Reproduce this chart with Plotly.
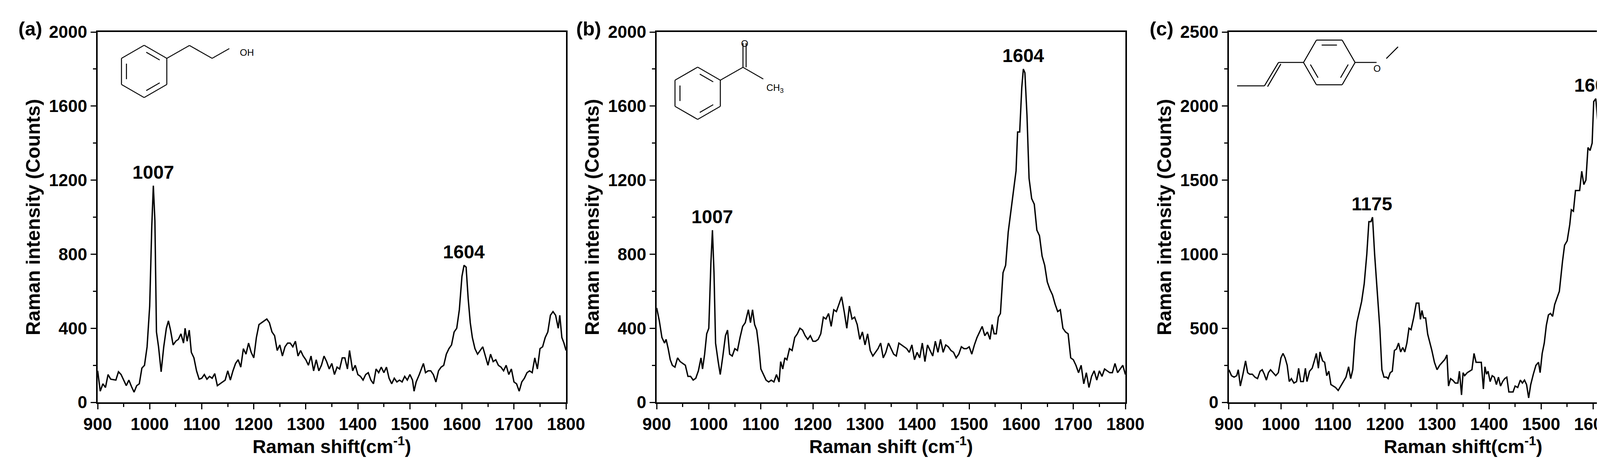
import math
import plotly.graph_objects as go

# panel (a) 2-phenylethanol
shift_a = [900, 905, 910, 915, 920, 925, 935, 940, 945, 950, 955, 960, 965, 970, 975, 980, 985, 990, 995, 1000,
           1004, 1007, 1010, 1013, 1017, 1022, 1027, 1032, 1036, 1040, 1045, 1050, 1055, 1060, 1065, 1068, 1072, 1076,
           1080, 1085, 1090, 1095, 1100, 1105, 1110, 1115, 1120, 1125, 1130, 1135, 1140, 1145, 1150, 1155, 1160, 1165,
           1170, 1175, 1180, 1185, 1190, 1195, 1200, 1205, 1210, 1215, 1220, 1225, 1230, 1235, 1240, 1245, 1250, 1255,
           1260, 1265, 1270, 1275, 1280, 1285, 1290, 1295, 1300, 1305, 1310, 1315, 1320, 1325, 1330, 1335, 1340, 1345,
           1350, 1355, 1360, 1365, 1370, 1375, 1380, 1384, 1390, 1395, 1400, 1405, 1410, 1415, 1420, 1425, 1430, 1435,
           1440, 1445, 1450, 1455, 1460, 1465, 1470, 1475, 1480, 1485, 1490, 1495, 1500, 1505, 1508, 1512, 1518, 1522,
           1526, 1530, 1535, 1540, 1545, 1550, 1555, 1560, 1565, 1570, 1575, 1580, 1585, 1590, 1595, 1600, 1604, 1608,
           1612, 1616, 1620, 1625, 1630, 1635, 1640, 1645, 1650, 1655, 1660, 1665, 1670, 1675, 1680, 1685, 1690, 1695,
           1700, 1705, 1710, 1715, 1720, 1725, 1730, 1735, 1740, 1745, 1750, 1755, 1760, 1765, 1770, 1775, 1780, 1785,
           1788, 1792, 1796, 1800]
counts_a = [170, 60, 100, 80, 150, 125, 120, 165, 150, 120, 90, 120, 85, 55, 90, 100, 185, 200, 300, 520,
            950, 1170, 980, 380, 300, 165, 300, 400, 440, 390, 310, 330, 340, 370, 320, 400, 330, 390,
            270, 240, 170, 125, 130, 150, 125, 140, 130, 155, 90, 100, 110, 120, 170, 120, 170, 210,
            230, 190, 290, 260, 320, 270, 240, 350, 420, 430, 440, 450, 430, 380, 360, 280, 310, 250,
            300, 320, 320, 300, 330, 250, 280, 250, 230, 200, 250, 170, 230, 170, 200, 250, 220, 180,
            210, 150, 190, 180, 240, 240, 180, 280, 170, 200, 150, 140, 120, 150, 160, 120, 100, 180,
            160, 190, 160, 190, 130, 100, 130, 110, 120, 110, 140, 120, 150, 120, 60, 110, 150, 180,
            210, 160, 170, 170, 150, 110, 170, 190, 200, 260, 290, 310, 380, 400, 500, 680, 740, 730,
            560, 430, 350, 290, 260, 280, 300, 250, 200, 260, 220, 230, 200, 190, 170, 200, 150, 180,
            110, 100, 60, 110, 130, 160, 170, 160, 240, 180, 290, 300, 350, 380, 470, 490, 470, 400,
            470, 350, 320, 280]

# panel (b) acetophenone
shift_b = [900, 905, 910, 915, 918, 922, 926, 930, 935, 940, 945, 950, 955, 960, 965, 970, 975, 980, 985, 988,
           992, 996, 1000, 1004, 1007, 1010, 1013, 1018, 1022, 1027, 1032, 1036, 1040, 1045, 1050, 1055, 1060, 1065,
           1070, 1076, 1080, 1084, 1088, 1092, 1096, 1100, 1105, 1110, 1115, 1120, 1125, 1130, 1135, 1138, 1142, 1146,
           1150, 1155, 1160, 1165, 1170, 1175, 1180, 1185, 1190, 1195, 1200, 1205, 1210, 1215, 1220, 1225, 1230, 1235,
           1240, 1245, 1250, 1255, 1260, 1265, 1270, 1275, 1280, 1285, 1290, 1295, 1300, 1305, 1310, 1315, 1320, 1325,
           1330, 1335, 1340, 1345, 1350, 1355, 1360, 1365, 1370, 1375, 1380, 1385, 1390, 1395, 1400, 1405, 1410, 1415,
           1420, 1425, 1430, 1435, 1440, 1445, 1450, 1455, 1460, 1465, 1470, 1475, 1480, 1485, 1490, 1495, 1500, 1505,
           1510, 1515, 1520, 1525, 1530, 1535, 1540, 1544, 1548, 1552, 1556, 1560, 1565, 1570, 1575, 1580, 1585, 1590,
           1593, 1597, 1601, 1604, 1607, 1611, 1615, 1620, 1625, 1630, 1635, 1640, 1645, 1650, 1655, 1660, 1665, 1670,
           1675, 1680, 1685, 1690, 1695, 1700, 1705, 1710, 1715, 1720, 1725, 1730, 1735, 1740, 1745, 1750, 1755, 1760,
           1765, 1770, 1775, 1780, 1785, 1790, 1795, 1800]
counts_b = [510, 440, 350, 320, 340, 290, 230, 200, 190, 240, 220, 210, 200, 140, 140, 120, 130, 170, 240, 180,
            260, 370, 400, 750, 930, 700, 320, 220, 150, 250, 360, 390, 260, 250, 290, 280, 350, 410,
            430, 500, 430, 500, 420, 390, 300, 180, 150, 120, 110, 120, 110, 150, 110, 220, 180, 240,
            230, 290, 280, 350, 370, 400, 390, 360, 340, 360, 330, 330, 340, 370, 460, 450, 480, 410,
            500, 490, 530, 570, 490, 400, 520, 450, 460, 420, 340, 380, 310, 370, 280, 250, 270, 290,
            320, 240, 270, 320, 290, 260, 250, 320, 310, 300, 290, 270, 310, 230, 270, 240, 320, 220,
            310, 280, 250, 330, 270, 340, 270, 310, 300, 280, 270, 240, 260, 300, 290, 290, 300, 260,
            310, 350, 380, 410, 360, 380, 340, 420, 370, 370, 460, 480, 700, 740, 920, 1030, 1150, 1250,
            1460, 1460, 1700, 1800, 1780, 1550, 1210, 1100, 1070, 930, 900, 790, 740, 650, 610, 580, 530, 490,
            500, 400, 380, 370, 240, 230, 200, 160, 200, 100, 160, 80, 140, 170, 120, 170, 140, 180,
            170, 160, 160, 210, 160, 180, 200, 150]

# panel (c) anethole
shift_c = [900, 905, 910, 915, 918, 922, 927, 932, 936, 940, 945, 950, 955, 960, 964, 968, 972, 976, 980, 985,
           990, 995, 1000, 1004, 1008, 1012, 1016, 1020, 1025, 1030, 1034, 1038, 1043, 1047, 1050, 1055, 1060, 1065,
           1068, 1072, 1075, 1080, 1084, 1088, 1092, 1096, 1100, 1105, 1110, 1115, 1120, 1125, 1130, 1134, 1138, 1142,
           1146, 1150, 1155, 1160, 1165, 1169, 1173, 1176, 1180, 1185, 1190, 1194, 1198, 1203, 1206, 1210, 1214, 1218,
           1222, 1226, 1230, 1234, 1238, 1242, 1246, 1250, 1255, 1260, 1265, 1268, 1271, 1274, 1278, 1282, 1290, 1295,
           1300, 1305, 1310, 1315, 1319, 1322, 1326, 1330, 1335, 1340, 1343, 1347, 1350, 1353, 1358, 1363, 1367, 1371,
           1375, 1380, 1385, 1389, 1392, 1395, 1398, 1402, 1406, 1410, 1414, 1418, 1422, 1426, 1430, 1434, 1438, 1442,
           1446, 1450, 1455, 1460, 1464, 1468, 1472, 1476, 1480, 1485, 1490, 1495, 1498, 1502, 1506, 1510, 1514, 1518,
           1522, 1526, 1530, 1535, 1538, 1541, 1545, 1550, 1555, 1558, 1562, 1566, 1570, 1574, 1578, 1582, 1586, 1590,
           1594, 1598, 1601, 1605, 1609, 1613, 1617, 1621, 1625, 1630, 1634, 1637, 1641, 1645, 1648, 1652, 1656, 1660,
           1664, 1668, 1672, 1676, 1680, 1684, 1688, 1692, 1696, 1700, 1704, 1708, 1712, 1716, 1720, 1725, 1730, 1735,
           1740, 1745, 1750, 1755, 1760, 1765, 1770, 1775, 1780, 1785, 1790, 1795, 1800]
counts_c = [220, 180, 170, 180, 220, 110, 190, 280, 200, 190, 190, 170, 160, 210, 220, 190, 150, 200, 220, 200,
            180, 200, 300, 330, 300, 250, 140, 160, 130, 140, 230, 140, 140, 230, 140, 210, 230, 290,
            330, 230, 340, 280, 270, 180, 210, 120, 110, 100, 80, 110, 140, 170, 240, 160, 220, 420,
            540, 600, 680, 800, 1000, 1220, 1220, 1250, 1000, 750, 500, 220, 170, 170, 160, 200, 210, 350,
            360, 400, 340, 370, 340, 400, 500, 490, 570, 670, 670, 560, 620, 570, 570, 460, 350, 270,
            220, 250, 270, 290, 320, 110, 160, 150, 130, 130, 210, 50, 200, 180, 200, 210, 220, 330,
            270, 270, 270, 90, 240, 190, 210, 140, 180, 170, 120, 170, 110, 140, 160, 170, 70, 70,
            70, 110, 100, 150, 130, 150, 120, 30, 120, 190, 250, 270, 200, 330, 400, 520, 590, 600,
            580, 660, 700, 750, 850, 950, 1060, 1090, 1200, 1300, 1290, 1430, 1430, 1430, 1560, 1470, 1500, 1720,
            1700, 1750, 2030, 2050, 1880, 1500, 1200, 1000, 840, 850, 850, 830, 930, 880, 780, 690, 780, 810,
            790, 680, 560, 470, 500, 400, 380, 380, 280, 220, 200, 270, 210, 230, 220, 190, 190, 240,
            260, 270, 300, 320, 360, 410, 430, 410, 440, 440, 430, 440, 460]

panel_tags = ["(a)", "(b)", "(c)"]
x_titles = ["Raman shift(cm<sup>-1</sup>)", "Raman shift (cm<sup>-1</sup>)", "Raman shift(cm<sup>-1</sup>)"]
y_title = "Raman intensity (Counts)"
peak_x = [[1007, 1604], [1007, 1604], [1175, 1604]]
peak_y = [[1170, 740], [930, 1800], [1250, 2050]]
peak_text = [["1007", "1604"], ["1007", "1604"], ["1175", "1604"]]

W, H = 4410, 1207
ML, MR, MT, MB = 242, 73, 74, 184
domains = [(0.0, 0.2928), (0.3495, 0.6425), (0.7072, 1.0)]
y_ranges = [(0, 2000, 400, 200), (0, 2000, 400, 200), (0, 2500, 500, 250)]

font = "Liberation Sans, Arial, sans-serif"
fig = go.Figure()
series = [(shift_a, counts_a), (shift_b, counts_b), (shift_c, counts_c)]
for i, (xs, ys) in enumerate(series):
    n = "" if i == 0 else str(i + 1)
    fig.add_trace(go.Scatter(x=xs, y=ys, mode="lines", line=dict(color="black", width=3.5),
                             xaxis="x" + n, yaxis="y" + n, showlegend=False))
    lo, hi, dt, mdt = y_ranges[i]
    axcommon = dict(showline=True, linecolor="black", linewidth=4, mirror=True, ticks="outside",
                    ticklen=14, tickwidth=3, tickcolor="black", showgrid=False, zeroline=False,
                    tickfont=dict(family=font, size=44, color="black", weight="bold"))
    fig.layout["xaxis" + n] = dict(axcommon, domain=domains[i], range=[900, 1800], dtick=100,
                                   anchor="y" + n, minor=dict(dtick=50, ticks="outside", ticklen=8,
                                                              tickwidth=3, tickcolor="black"),
                                   title=dict(text="<b>" + x_titles[i] + "</b>", standoff=4,
                                              font=dict(family=font, size=48, color="black")))
    fig.layout["yaxis" + n] = dict(axcommon, range=[lo, hi], dtick=dt, anchor="x" + n,
                                   minor=dict(dtick=mdt, ticks="outside", ticklen=8, tickwidth=3,
                                              tickcolor="black"),
                                   title=dict(text="<b>" + y_title + "</b>", standoff=8,
                                              font=dict(family=font, size=50, color="black")))
    for px, py, t in zip(peak_x[i], peak_y[i], peak_text[i]):
        fig.add_annotation(x=px, y=py, text="<b>" + t + "</b>", showarrow=False, yanchor="bottom",
                           yshift=6, xref="x" + n, yref="y" + n,
                           font=dict(family=font, size=48, color="black"))
    fig.add_annotation(x=domains[i][0], y=1.0, xref="paper", yref="paper", text="<b>" + panel_tags[i] + "</b>",
                       showarrow=False, xanchor="right", yanchor="middle", xshift=-140, yshift=8,
                       font=dict(family=font, size=50, color="black"))

# structure drawings (figure pixel coordinates -> paper)
PW, PH = W - ML - MR, H - MT - MB


def P(px, py):
    return (px - ML) / PW, (H - MB - py) / PH


def seg(x0, y0, x1, y1):
    a, b = P(x0, y0)
    c, d = P(x1, y1)
    fig.add_shape(type="line", xref="paper", yref="paper", x0=a, y0=b, x1=c, y1=d,
                  line=dict(color="black", width=2.5))


def label(px, py, t, size=24):
    a, b = P(px, py)
    fig.add_annotation(x=a, y=b, xref="paper", yref="paper", text=t, showarrow=False,
                       font=dict(family=font, size=size, color="black"))


def ring(cx, cy, r, start, doubles):
    pts = [(cx + r * math.cos(math.radians(start + 60 * k)), cy + r * math.sin(math.radians(start + 60 * k)))
           for k in range(6)]
    for k in range(6):
        x0, y0 = pts[k]
        x1, y1 = pts[(k + 1) % 6]
        seg(x0, y0, x1, y1)
        if k in doubles:
            f = 0.78
            ix0, iy0 = cx + (x0 - cx) * f, cy + (y0 - cy) * f
            ix1, iy1 = cx + (x1 - cx) * f, cy + (y1 - cy) * f
            seg(ix0 + (ix1 - ix0) * 0.12, iy0 + (iy1 - iy0) * 0.12, ix1 - (ix1 - ix0) * 0.12, iy1 - (iy1 - iy0) * 0.12)
    return pts


# (a) 2-phenylethanol
cx, cy, r = 361, 175, 67
pts = ring(cx, cy, r, -90, [0, 2, 4])
vx, vy = pts[1]
seg(vx, vy, vx + 58, vy - 33)
seg(vx + 58, vy - 33, vx + 116, vy)
seg(vx + 116, vy, vx + 160, vy - 25)
label(vx + 185, vy - 30, "OH")

# (b) acetophenone
cx, cy, r = 1778, 231, 67
pts = ring(cx, cy, r, -90, [0, 2, 4])
vx, vy = pts[1]
seg(vx, vy, vx + 58, vy - 33)
seg(vx + 58, vy - 33, vx + 58, vy - 95)
seg(vx + 66, vy - 33, vx + 66, vy - 95)
label(vx + 62, vy - 110, "O")
seg(vx + 58, vy - 33, vx + 110, vy - 3)
label(vx + 140, vy + 3, "CH<sub>3</sub>")

# (c) anethole
cx, cy, r = 3395, 152, 66
pts = ring(cx, cy, r, 0, [0, 2, 4])
lx, ly = pts[3]
seg(lx, ly, lx - 64, ly)
seg(lx - 64, ly, lx - 100, ly + 60)
seg(lx - 58, ly + 4, lx - 92, ly + 62)
seg(lx - 100, ly + 60, lx - 170, ly + 60)
rx, ry = pts[0]
seg(rx, ry, rx + 55, ry)
label(rx + 68, ry, "O")
seg(rx + 80, ry - 10, rx + 110, ry - 40)

fig.update_layout(width=W, height=H, margin=dict(l=ML, r=MR, t=MT, b=MB),
                  plot_bgcolor="white", paper_bgcolor="white")
fig.write_html("out.html")
